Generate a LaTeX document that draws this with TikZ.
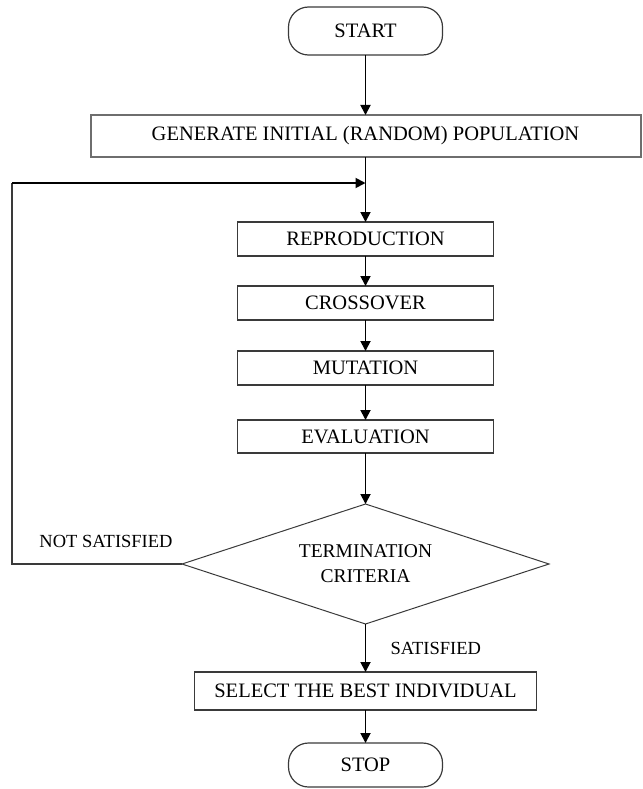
\documentclass[tikz,border=0pt]{standalone}
\usepackage{fontspec}
\setmainfont{Liberation Serif}
\usepackage{tikz}
\usetikzlibrary{arrows.meta,positioning,shapes.geometric}
\definecolor{boxgray}{HTML}{3A3A3A}
\definecolor{widegray}{HTML}{6E6E6E}

\begin{document}
\begin{tikzpicture}[
  x=1pt,y=1pt,
  every node/.style={outer sep=0pt},
  font=\fontsize{20.5}{24}\selectfont,
  terminal/.style={draw=boxgray,line width=1.2pt,rounded corners=20pt,minimum width=154pt,minimum height=48pt,inner sep=0pt},
  box/.style={draw=boxgray,line width=1.3pt,minimum width=256pt,minimum height=34pt,inner sep=0pt},
  widebox/.style={draw=widegray,line width=2pt,minimum height=42pt,inner sep=0pt},
  decision/.style={diamond,aspect=3,draw=boxgray,line width=1pt,minimum width=367pt,minimum height=120pt,inner sep=0pt,align=center,font=\fontsize{19.5}{25}\selectfont},
  arrow/.style={-{Triangle[length=10pt,width=10pt]},line width=1.8pt},
  thinline/.style={draw=boxgray,line width=1.2pt},
  note/.style={font=\fontsize{18.5}{22}\selectfont}
]
\useasboundingbox (0,0) rectangle (642,-789);
\node[terminal] (start) at (365.5,-31) {START};
\node[widebox,minimum width=550pt,below=60pt of start] (init) {GENERATE INITIAL (RANDOM) POPULATION};
\coordinate[below=26pt of init.south] (merge);
\node[box,below=65pt of init] (repro) {REPRODUCTION};
\node[box,below=30pt of repro] (cross) {CROSSOVER};
\node[box,below=31pt of cross] (mutate) {MUTATION};
\node[box,minimum height=33pt,below=35pt of mutate] (evalu) {EVALUATION};
\node[decision,below=51pt of evalu] (term) {TERMINATION\\CRITERIA};
\node[widebox,draw=boxgray,line width=1.4pt,minimum width=342pt,minimum height=38pt,below=48pt of term] (best) {SELECT THE BEST INDIVIDUAL};
\node[terminal,minimum height=44pt,below=33pt of best] (stop) {STOP};

\draw[arrow] (start) -- (init);
\draw[arrow] (init) -- (repro);
\draw[arrow] (repro) -- (cross);
\draw[arrow] (cross) -- (mutate);
\draw[arrow] (mutate) -- (evalu);
\draw[arrow] (evalu) -- (term);
\draw[arrow] (term) -- node[note,inner sep=3pt,right=22pt,midway]{SATISFIED} (best);
\draw[arrow] (best) -- (stop);

% loop back when not satisfied
\coordinate[left=170pt of term.west] (lowleft);
\coordinate (upleft) at (lowleft |- merge);
\draw[thinline] (term.west) -- node[note,inner sep=3pt,above=13pt,pos=0.447]{NOT SATISFIED} (lowleft) -- (upleft);
\draw[arrow] (upleft) -- (merge);
\end{tikzpicture}
\end{document}
